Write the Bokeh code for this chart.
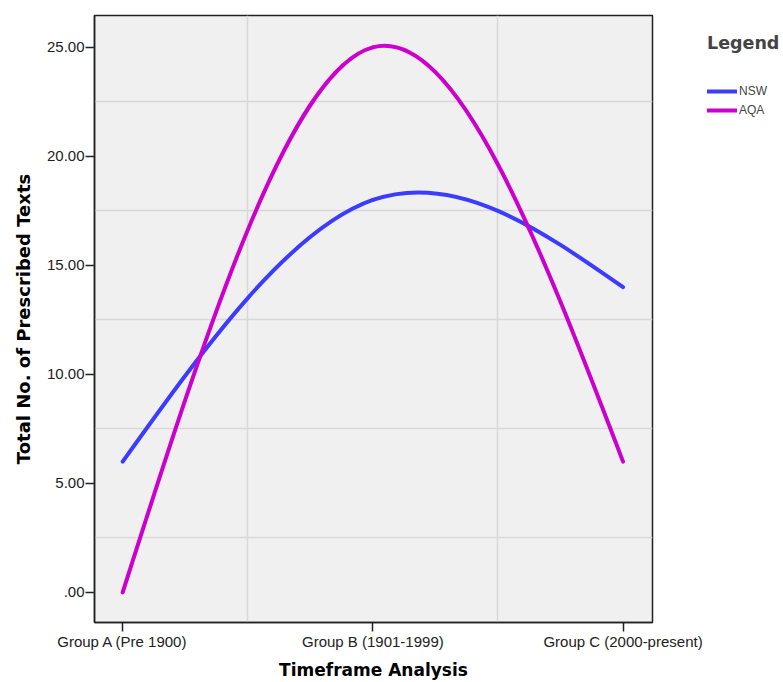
import numpy as np
from bokeh.plotting import figure
from bokeh.layouts import row
from bokeh.models import Range1d, FixedTicker, Legend, LegendItem
from bokeh.embed import file_html
from bokeh.resources import INLINE

categories = ["Group A (Pre 1900)", "Group B (1901-1999)", "Group C (2000-present)"]
series_names = ["NSW", "AQA"]
nsw = [6, 18, 14]
aqa = [0, 25, 6]
colors = ["#3c3cff", "#cc00cc"]
y_ticks = [0, 5, 10, 15, 20, 25]
y_tick_labels = [".00", "5.00", "10.00", "15.00", "20.00", "25.00"]

FONT = "Liberation Sans"
TFONT = "DejaVu Sans"

p = figure(width=707, height=682, output_backend="svg", toolbar_location=None,
           x_range=Range1d(-0.1126, 2.1178), y_range=Range1d(-1.38, 26.46),
           min_border_left=94, min_border_top=15, min_border_right=55, min_border_bottom=60)
p.background_fill_color = "#f0f0f0"
p.border_fill_color = "white"
p.outline_line_color = "#222222"
p.outline_line_width = 1.5


def spline_beziers(ys):
    ys = np.asarray(ys, dtype=float)
    n = len(ys)
    # natural cubic spline second derivatives, unit spacing
    A = np.zeros((n, n)); b = np.zeros(n)
    A[0, 0] = 1; A[-1, -1] = 1
    for i in range(1, n - 1):
        A[i, i - 1] = 1; A[i, i] = 4; A[i, i + 1] = 1
        b[i] = 6 * (ys[i - 1] - 2 * ys[i] + ys[i + 1])
    M = np.linalg.solve(A, b)
    x0, y0, x1, y1, cx0, cy0, cx1, cy1 = [], [], [], [], [], [], [], []
    for i in range(n - 1):
        dy = ys[i + 1] - ys[i]
        d0 = dy - (2 * M[i] + M[i + 1]) / 6
        d1 = dy + (M[i] + 2 * M[i + 1]) / 6
        x0.append(i); y0.append(ys[i]); x1.append(i + 1); y1.append(ys[i + 1])
        cx0.append(i + 1 / 3); cy0.append(ys[i] + d0 / 3)
        cx1.append(i + 2 / 3); cy1.append(ys[i + 1] - d1 / 3)
    return dict(x0=x0, y0=y0, x1=x1, y1=y1, cx0=cx0, cy0=cy0, cx1=cx1, cy1=cy1)


for name, ys, c in zip(series_names, [nsw, aqa], colors):
    d = spline_beziers(ys)
    p.bezier(line_color=c, line_width=4, line_cap="round", **d)

# axes
p.xaxis.ticker = FixedTicker(ticks=list(range(len(categories))))
p.xaxis.major_label_overrides = {i: c for i, c in enumerate(categories)}
p.yaxis.ticker = FixedTicker(ticks=y_ticks)
p.yaxis.major_label_overrides = {t: l for t, l in zip(y_ticks, y_tick_labels)}
for ax in (p.xaxis[0], p.yaxis[0]):
    ax.axis_line_color = "#222222"
    ax.axis_line_width = 1.5
    ax.major_tick_line_color = "#222222"
    ax.major_tick_line_width = 1.5
    ax.major_tick_out = 9
    ax.major_tick_in = 0
    ax.minor_tick_line_color = None
    ax.major_label_text_font = FONT
    ax.major_label_text_font_size = "15px"
    ax.major_label_text_color = "#222222"
    ax.axis_label_text_font = TFONT
    ax.axis_label_text_font_style = "bold"
    ax.axis_label_text_font_size = "17px"
    ax.axis_label_text_color = "black"
p.yaxis.axis_label_text_font_size = "18px"
p.xaxis.axis_label = "Timeframe Analysis"
p.yaxis.axis_label = "Total No. of Prescribed Texts"
p.xaxis.major_label_standoff = 1
p.yaxis.major_label_standoff = 1
p.xaxis.axis_label_standoff = 7
p.yaxis.axis_label_standoff = 10

# grid at in-between positions
p.xgrid.ticker = FixedTicker(ticks=[0.5, 1.5])
p.ygrid.ticker = FixedTicker(ticks=[2.5, 7.5, 12.5, 17.5, 22.5])
for g in (p.xgrid[0], p.ygrid[0]):
    g.grid_line_color = "#d8d8d8"
    g.grid_line_width = 1.5

# legend panel (separate figure to the right of the chart)
lp = figure(width=76, height=682, output_backend="svg", toolbar_location=None,
            x_range=Range1d(0, 1), y_range=Range1d(0, 1),
            x_axis_type=None, y_axis_type=None,
            min_border_left=0, min_border_right=0, min_border_top=0, min_border_bottom=0)
lp.outline_line_color = None
lp.background_fill_color = "white"
items = []
for name, c in zip(series_names, colors):
    r = lp.line(x=[float("nan")], y=[float("nan")], line_color=c, line_width=4, line_cap="round")
    items.append(LegendItem(label=name, renderers=[r]))

legend = Legend(items=items, location=(0, 504), title="Legend",
                title_text_font=TFONT, title_text_font_style="bold", title_text_font_size="17.5px",
                title_standoff=30, label_text_font=FONT, label_text_font_size="12px",
                label_standoff=2, glyph_width=30, glyph_height=16, label_height=16,
                spacing=3, padding=0, margin=0, border_line_color=None,
                background_fill_alpha=0)
lp.add_layout(legend, "center")

layout = row(p, lp)
open("out.html", "w").write(file_html(layout, INLINE))
